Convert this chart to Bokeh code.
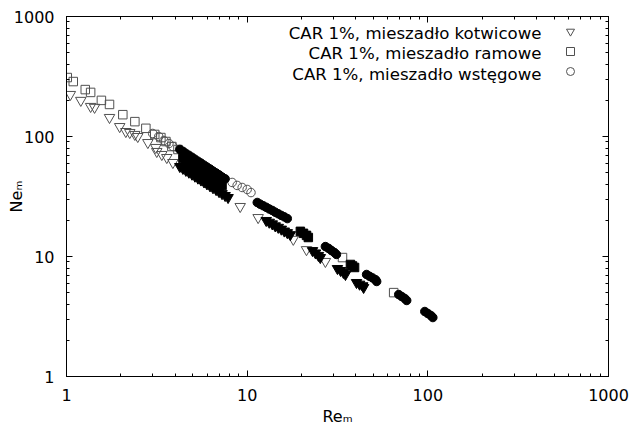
from bokeh.plotting import figure
from bokeh.models import FixedTicker, LogAxis, Label, Legend, LegendItem, PrintfTickFormatter, CustomJSTickFormatter
from bokeh.embed import file_html
from bokeh.resources import INLINE

# ---- data ----
# CAR 1%, mieszadło kotwicowe (inverted triangles)
kot_re = [1.05, 1.20, 1.36, 1.43, 1.73, 1.97, 2.13, 2.24, 2.39, 2.48, 2.82, 3.12, 3.16, 3.37, 3.59, 3.88,
          9.15, 11.5, 18.0, 21.3, 27.1]
kot_ne = [224, 200, 178, 175, 144, 121, 110, 108, 104, 100, 89, 81, 75, 70.8, 66.8, 60.7,
          26.1, 21.1, 13.9, 11.4, 9.09]
# densely overlapping measurement runs
kot_dense_re = [4.24, 4.41, 4.58, 4.76, 4.95, 5.14, 5.34, 5.55, 5.77, 5.99, 6.23, 6.47, 6.73, 6.99, 7.26, 7.55, 7.84,
                12.75, 13.25, 13.77, 14.3, 14.86, 15.45, 16.05, 16.68, 17.33,
                23.0, 23.9, 24.8, 25.4,
                31.6, 32.9, 34.1, 35.0,
                40.3, 41.9, 43.6, 44.1]
kot_dense_ne = [56.2, 54.2, 52.2, 50.4, 48.5, 46.7, 45.0, 43.4, 41.8, 40.3, 38.8, 37.4, 36.1, 34.7, 33.4, 32.2, 31.0,
                19.95, 19.3, 18.7, 18.0, 17.5, 16.9, 16.3, 15.8, 15.2,
                11.2, 10.7, 10.2, 9.8,
                7.94, 7.64, 7.36, 7.08,
                6.07, 5.88, 5.70, 5.52]

# CAR 1%, mieszadło ramowe (squares)
ram_re = [1.01, 1.09, 1.27, 1.36, 1.56, 1.73, 2.05, 2.39, 2.75, 3.08, 3.33, 3.55, 3.83, 4.14, 33.7, 64.7]
ram_ne = [310, 287, 246, 233, 200, 185, 152, 133, 117, 104, 98, 90.8, 82.5, 77.9, 9.8, 5.0]
ram_dense_re = [4.41, 4.58, 4.76, 4.95, 5.14, 5.34, 5.55, 5.77, 5.99, 6.23, 6.47, 6.73, 6.99, 7.26,
                19.7, 20.5, 21.3, 21.8,
                37.3, 38.3, 39.3]
ram_dense_ne = [65.6, 63.0, 60.5, 58.2, 56.0, 53.7, 51.6, 49.7, 47.6, 45.8, 44.0, 42.3, 40.6, 39.1,
                16.2, 15.6, 15.0, 14.4,
                8.58, 8.34, 8.10]

# CAR 1%, mieszadło wstęgowe (circles)
wst_re = [3.0, 3.24, 3.46, 3.69, 3.88, 8.26, 8.8, 9.38, 10.0, 10.5]
wst_ne = [106, 100, 92.6, 87.4, 82.5, 41.4, 39.1, 37.6, 36.2, 34.1]
wst_dense_re = [4.24, 4.41, 4.58, 4.76, 4.95, 5.14, 5.34, 5.55, 5.77, 5.99, 6.23, 6.47, 6.73, 6.99, 7.26, 7.55,
                11.37, 11.8, 12.27, 12.75, 13.25, 13.77, 14.3, 14.86, 15.45, 16.05, 16.68,
                27.1, 28.2, 29.3, 30.4, 31.2,
                45.8, 47.6, 49.5, 51.4, 52.1,
                69.0, 71.7, 74.5, 76.4,
                96.2, 100.0, 104.0, 106.6]
wst_dense_ne = [78.0, 75.2, 72.3, 69.7, 67.1, 64.6, 62.2, 60.0, 57.7, 55.6, 53.6, 51.5, 49.7, 47.9, 46.0, 44.4,
                28.2, 27.3, 26.5, 25.7, 24.9, 24.2, 23.4, 22.7, 22.0, 21.4, 20.7,
                12.1, 11.7, 11.2, 10.8, 10.4,
                7.08, 6.84, 6.62, 6.40, 6.19,
                4.82, 4.64, 4.47, 4.30,
                3.48, 3.35, 3.22, 3.10]

series_labels = ["CAR 1%, mieszadło kotwicowe", "CAR 1%, mieszadło ramowe", "CAR 1%, mieszadło wstęgowe"]
x_title = "Reₘ"
y_title = "Neₘ"
major_ticks = [1, 10, 100, 1000]
minor_ticks = [m * 10 ** k for k in range(3) for m in range(2, 10)]

FONT = "DejaVu Sans"
FS = "16px"

p = figure(width=634, height=428, x_axis_type="log", y_axis_type="log",
           x_range=(1, 1000), y_range=(1, 1000),
           output_backend="svg", toolbar_location=None,
           min_border_left=66, min_border_right=26, min_border_top=16, min_border_bottom=51)
p.xgrid.visible = False
p.ygrid.visible = False
p.outline_line_color = "black"
p.outline_line_width = 1
p.background_fill_color = "white"
p.border_fill_color = "white"


def style_axis(ax, labels=True):
    ax.ticker = FixedTicker(ticks=major_ticks, minor_ticks=minor_ticks)
    ax.major_tick_in = 6
    ax.major_tick_out = 0
    ax.minor_tick_in = 3
    ax.minor_tick_out = 0
    ax.axis_line_color = "black"
    ax.major_tick_line_color = "black"
    ax.minor_tick_line_color = "black"
    ax.major_label_text_font = FONT
    ax.major_label_text_font_size = FS
    ax.major_label_text_color = "black"
    ax.major_label_standoff = 12
    ax.axis_label_text_font = FONT
    ax.axis_label_text_font_size = FS
    ax.axis_label_text_font_style = "normal"
    ax.axis_label_text_color = "black"
    if labels:
        ax.formatter = PrintfTickFormatter(format="%d")
    else:
        ax.formatter = CustomJSTickFormatter(code="return ''")
        ax.major_label_standoff = 0


style_axis(p.xaxis[0])
style_axis(p.yaxis[0])
p.xaxis[0].axis_label = x_title
p.xaxis[0].axis_label_standoff = 3
p.yaxis[0].axis_label = y_title
p.yaxis[0].axis_label_standoff = -15
top_ax = LogAxis()
right_ax = LogAxis()
style_axis(top_ax, labels=False)
style_axis(right_ax, labels=False)
p.add_layout(top_ax, "above")
p.add_layout(right_ax, "right")

LINE = "#505050"
r_kot = p.scatter(kot_re, kot_ne, marker="inverted_triangle", size=10.5,
                  line_color=LINE, line_width=1, fill_color=None)
p.scatter(kot_dense_re, kot_dense_ne, marker="inverted_triangle", size=10.5,
          line_color="black", line_width=1, fill_color="black")
r_ram = p.scatter(ram_re, ram_ne, marker="square", size=8.5,
                  line_color=LINE, line_width=1, fill_color=None)
p.scatter(ram_dense_re, ram_dense_ne, marker="square", size=8.5,
          line_color="black", line_width=1, fill_color="black")
r_wst = p.scatter(wst_re, wst_ne, marker="circle", size=8.5,
                  line_color=LINE, line_width=1, fill_color=None)
p.scatter(wst_dense_re, wst_dense_ne, marker="circle", size=8.5,
          line_color="black", line_width=1, fill_color="black")

# legend: symbols on the right, texts right-aligned to their left
legend = Legend(items=[LegendItem(label="", renderers=[r_kot]),
                       LegendItem(label="", renderers=[r_ram]),
                       LegendItem(label="", renderers=[r_wst])],
                location=(494, 295), padding=0, margin=0, spacing=0,
                glyph_width=20, glyph_height=20, label_height=20, label_width=0,
                label_standoff=0, label_text_font_size="1px",
                border_line_color=None, background_fill_alpha=0)
p.add_layout(legend, "center")
for i, txt in enumerate(series_labels):
    p.add_layout(Label(x=475, y=[343, 323, 302][i], x_units="screen", y_units="screen", text=txt,
                       text_font=FONT, text_font_size="16.6px", text_color="black",
                       text_align="right", text_baseline="middle"))

open("out.html", "w").write(file_html(p, INLINE))
